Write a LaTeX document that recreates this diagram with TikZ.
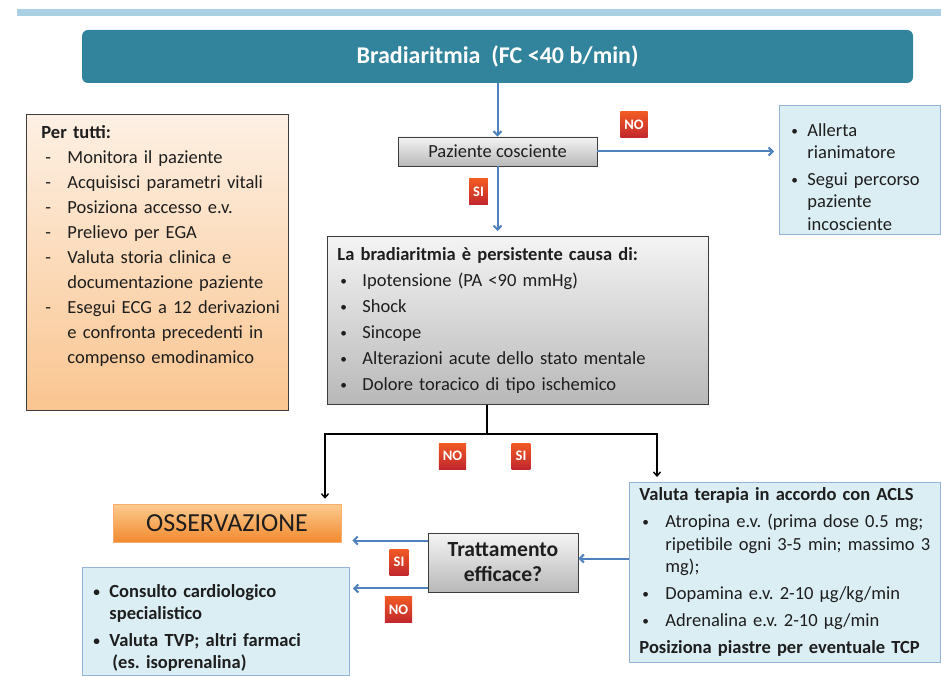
\documentclass[tikz,border=0pt]{standalone}
\usepackage{fontspec}
\setmainfont{Carlito}
\usepackage{tikz}
\usetikzlibrary{calc,arrows.meta,positioning}
\definecolor{ink}{HTML}{1E1E1E}
\definecolor{headteal}{HTML}{31849B}
\definecolor{topbar}{HTML}{A9D0E3}
\definecolor{arrowblue}{HTML}{4F81BD}
\definecolor{bluefill}{HTML}{DBEEF4}
\definecolor{blueline}{HTML}{95B3D7}
\definecolor{grayTop}{HTML}{F4F4F4}
\definecolor{grayBot}{HTML}{B8B8B8}
\definecolor{boxline}{HTML}{3C3C3C}
\definecolor{badgeTop}{HTML}{F15A24}
\definecolor{badgeBot}{HTML}{C1272D}
\definecolor{peachTop}{HTML}{FDF0E4}
\definecolor{peachBot}{HTML}{FAC590}
\definecolor{orangeTop}{HTML}{FCCB90}
\definecolor{orangeBot}{HTML}{F28A2E}
\frenchspacing
\newcommand{\bdot}{\raisebox{1pt}{\scalebox{0.72}{\textbullet}}}
\newcommand{\bitem}[3]{\par\hangindent=#1\hangafter=1\noindent\makebox[#1][l]{\hspace{#2}\bdot}#3}
\newcommand{\ditem}[1]{\par\hangindent=26pt\hangafter=1\noindent\makebox[26pt][l]{\hspace{4pt}-}#1}
\tikzset{
  txt/.style={font=\fontsize{18.5}{22.5}\selectfont, text=ink},
  graybox/.style={draw=boxline, line width=0.9pt, top color=grayTop, bottom color=grayBot},
  bluebox/.style={draw=blueline, line width=0.9pt, fill=bluefill},
  badge/.style={top color=badgeTop, bottom color=badgeBot, text=white,
    font=\fontsize{14.5}{14.5}\selectfont\bfseries, minimum height=26pt, inner xsep=4pt, inner ysep=0pt},
  barrow/.style={draw=arrowblue, line width=2pt, -{Straight Barb[length=4pt,width=8pt]}},
  karrow/.style={draw=black, line width=1.4pt, -{Straight Barb[length=4pt,width=7pt]}},
  kline/.style={draw=black, line width=1.4pt},
}
\begin{document}
\begin{tikzpicture}[x=1pt, y=-1pt]
  \useasboundingbox (0,0) rectangle (941,676);
  \fill[topbar] (17,9) rectangle (941,16);

  % header
  \node[fill=headteal, rounded corners=6pt, minimum width=831pt, minimum height=53pt,
    text=white, font=\fontsize{24}{24}\selectfont\bfseries] (brady) at (497.5,56.5)
    {Bradiaritmia\ \ (FC <40 b/min)};

  % left column
  \node[draw=boxline, line width=0.9pt, top color=peachTop, bottom color=peachBot,
    txt, font=\fontsize{18.5}{25}\selectfont, anchor=north west, inner xsep=11pt, inner ysep=10pt,
    text width=240pt, minimum width=262pt, minimum height=296pt] (pertutti) at (26,114) {%
    \raggedright\leftskip=4pt\textbf{Per tutti:}
    \ditem{Monitora il paziente}
    \ditem{Acquisisci parametri vitali}
    \ditem{Posiziona accesso e.v.}
    \ditem{Prelievo per\ EGA}
    \ditem{Valuta storia clinica e\newline documentazione paziente}
    \ditem{\mbox{Esegui ECG a 12 derivazioni}\newline e confronta precedenti in\newline compenso emodinamico}
    \par\vspace*{33pt}};

  \node[graybox, txt, minimum width=199pt, minimum height=29pt] (paz) at (497.5,151.5)
    {Paziente cosciente};

  \node[bluebox, txt, anchor=north west, inner xsep=10pt, text width=141pt,
    minimum width=161pt, minimum height=129pt] (allerta) at (779,105) {%
    \raggedright\setlength{\parskip}{4pt}%
    \bitem{18pt}{2pt}{Allerta\newline rianimatore}
    \bitem{18pt}{2pt}{Segui percorso\newline paziente\newline incosciente}\par};

  \node[graybox, txt, anchor=north west, inner xsep=10pt, text width=361pt,
    minimum width=381pt, minimum height=168pt] (causa) at (327,236) {%
    \raggedright\setlength{\parskip}{3.5pt}%
    \textbf{La bradiaritmia è persistente causa di:}
    \bitem{25pt}{3pt}{Ipotensione (PA <90 mmHg)}
    \bitem{25pt}{3pt}{Shock}
    \bitem{25pt}{3pt}{Sincope}
    \bitem{25pt}{3pt}{Alterazioni acute dello stato mentale}
    \bitem{25pt}{3pt}{Dolore toracico di tipo ischemico}\par};

  \node[draw=orangeBot!70, line width=0.6pt, top color=orangeTop, bottom color=orangeBot,
    minimum width=228pt, minimum height=38pt, text=ink,
    font=\fontsize{26}{26}\selectfont] (oss) at (227,523) {OSSERVAZIONE};

  \node[bluebox, txt, font=\fontsize{18.5}{22}\selectfont\bfseries, anchor=north west,
    inner xsep=9pt, text width=249pt, minimum width=267pt, minimum height=105pt] (consulto) at (82,567) {%
    \raggedright\setlength{\parskip}{5pt}%
    \bitem{18pt}{2pt}{Consulto cardiologico\newline specialistico}
    \bitem{18pt}{2pt}{Valuta TVP; altri farmaci\newline \hspace*{3pt}(es. isoprenalina)}\par};

  \node[graybox, minimum width=150pt, minimum height=59pt, align=center, text=ink,
    font=\fontsize{21.6}{25}\selectfont\bfseries] (trat) at (503,562.5)
    {Trattamento\\efficace?};

  \node[bluebox, txt, anchor=north west, inner xsep=10pt, text width=291pt,
    minimum width=311pt, minimum height=180pt] (acls) at (629,482) {%
    \raggedright\setlength{\parskip}{4.5pt}%
    \textbf{Valuta terapia in accordo con ACLS}
    \bitem{26pt}{3pt}{Atropina e.v. (prima dose 0.5 mg;\newline ripetibile ogni 3-5 min; massimo 3\newline mg);}
    \bitem{26pt}{3pt}{Dopamina e.v. 2-10 µg/kg/min}
    \bitem{26pt}{3pt}{Adrenalina e.v. 2-10 µg/min}
    \par\noindent\textbf{Posiziona piastre per eventuale TCP}\par};

  % badges
  \node[badge] (no1) at (634,125) {NO};
  \node[badge] (si1) at (478.5,192) {SI};
  \node[badge] (no2) at (452.5,456) {NO};
  \node[badge] (si2) at (521,456) {SI};
  \node[badge] (si3) at (399,562) {SI};
  \node[badge] (no3) at (398.5,609.5) {NO};

  % connectors
  \draw[barrow] (brady.south) -- (brady.south |- paz.north);
  \draw[barrow, shorten >=5pt] (paz.east) -- (paz.east -| allerta.west);
  \draw[barrow, shorten >=5pt] (paz.south) -- (paz.south |- causa.north);

  \coordinate (fork) at (487,434);
  \coordinate (forkL) at (325,434);
  \coordinate (forkR) at (657,434);
  \draw[kline] (fork |- causa.south) -- (fork);
  \draw[karrow, shorten >=5pt] (fork) -- (forkL) -- (forkL |- oss.north);
  \draw[karrow, shorten >=5pt] (fork) -- (forkR) -- (forkR |- acls.north);

  \coordinate (tratin) at ([yshift=4pt]trat.east);
  \draw[barrow] (acls.west |- tratin) -- (tratin);
  \draw[barrow, shorten >=11pt] ([yshift=-8pt]trat.north west) -- ([yshift=-8pt]trat.north west -| oss.east);
  \draw[barrow, shorten >=3pt] ([yshift=4pt]trat.south west) -- ([yshift=4pt]trat.south west -| consulto.east);
\end{tikzpicture}
\end{document}
